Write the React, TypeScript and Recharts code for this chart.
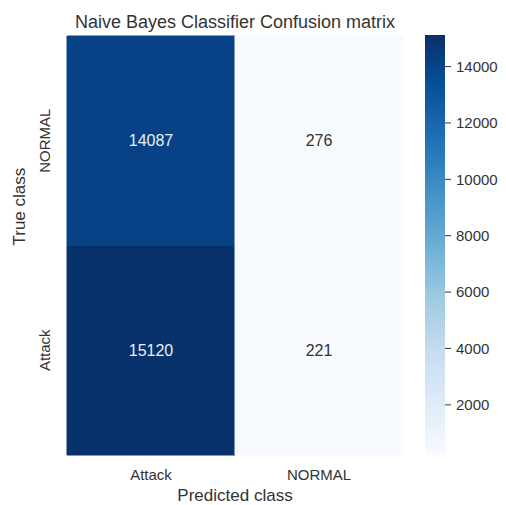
import React from 'react';
import { BarChart, Bar, XAxis, YAxis, Cell, LabelList, Label } from 'recharts';

// confusion matrix, columns = predicted class, rows = true class
const predictedClasses = ['Attack', 'NORMAL'];
const trueClasses = ['Attack', 'NORMAL']; // bottom row first
const trueAttack = [15120, 221];
const trueNormal = [14087, 276];
const colorbarTicks = [2000, 4000, 6000, 8000, 10000, 12000, 14000];

const FONT = '"Liberation Sans", Arial, sans-serif';
const TEXT = '#333333';

// matplotlib "Blues"
const BLUES = ['#f7fbff', '#deebf7', '#c6dbef', '#9ecae1', '#6baed6', '#4292c6', '#2171b5', '#08519c', '#08306b'];

const allValues = [...trueAttack, ...trueNormal];
const vmin = Math.min(...allValues);
const vmax = Math.max(...allValues);

function hexToRgb(h: string) {
  const n = parseInt(h.slice(1), 16);
  return [(n >> 16) & 255, (n >> 8) & 255, n & 255];
}

function blues(v: number) {
  const t = Math.max(0, Math.min(1, (v - vmin) / (vmax - vmin)));
  const pos = t * (BLUES.length - 1);
  const i = Math.min(Math.floor(pos), BLUES.length - 2);
  const f = pos - i;
  const a = hexToRgb(BLUES[i]);
  const b = hexToRgb(BLUES[i + 1]);
  const c = a.map((x, k) => Math.round(x + (b[k] - x) * f));
  return `rgb(${c[0]},${c[1]},${c[2]})`;
}

const data = predictedClasses.map((p, i) => ({
  pred: p,
  attackRow: 1,
  normalRow: 1,
  attackCount: trueAttack[i],
  normalCount: trueNormal[i],
}));

const colorbarData = [{ name: 'scale', range: [vmin, vmax] }];

const CellText = (props: any) => {
  const { x, y, width, height, value } = props;
  const dark = (value - vmin) / (vmax - vmin) > 0.5;
  return (
    <text
      x={x + width / 2}
      y={y + height / 2}
      textAnchor="middle"
      dominantBaseline="central"
      fontSize={16}
      fontFamily={FONT}
      fill={dark ? '#e6f0fa' : TEXT}
    >
      {value}
    </text>
  );
};

const RowTick = (props: any) => {
  const { x, y, payload } = props;
  const idx = payload.value < 1 ? 0 : 1;
  const bx = x - 9;
  return (
    <text
      x={bx}
      y={y}
      transform={`rotate(-90, ${bx}, ${y})`}
      textAnchor="middle"
      fontSize={15}
      fontFamily={FONT}
      fill={TEXT}
    >
      {trueClasses[idx]}
    </text>
  );
};

export default function App() {
  return (
    <div style={{ position: 'absolute', left: 0, top: 0, width: 506, height: 505, background: '#fff', fontFamily: FONT }}>
      <div
        style={{
          position: 'absolute',
          left: 0,
          width: 470,
          top: 11,
          textAlign: 'center',
          fontSize: 18,
          lineHeight: '22px',
          color: TEXT,
        }}
      >
        Naive Bayes Classifier Confusion matrix
      </div>

      <div style={{ position: 'absolute', left: 0, top: 0 }}>
        <BarChart
          width={430}
          height={505}
          data={data}
          margin={{ top: 36, right: 27, left: 0, bottom: 0 }}
          barCategoryGap={0}
        >
          <XAxis
            dataKey="pred"
            type="category"
            height={50}
            tickLine={false}
            axisLine={false}
            tickMargin={8}
            tick={{ fontSize: 15, fill: TEXT, fontFamily: FONT }}
          >
            <Label value="Predicted class" position="insideBottom" offset={4} fontSize={17} fill={TEXT} fontFamily={FONT} />
          </XAxis>
          <YAxis
            type="number"
            domain={[0, 2]}
            ticks={[0.5, 1.5]}
            width={67}
            tickLine={false}
            axisLine={false}
            tick={<RowTick />}
          >
            <Label value="True class" angle={-90} position="insideLeft" offset={19} fontSize={17} fill={TEXT} fontFamily={FONT} />
          </YAxis>
          <Bar dataKey="attackRow" stackId="m" isAnimationActive={false}>
            {data.map((d, i) => (
              <Cell key={`a-${i}`} fill={blues(d.attackCount)} stroke={blues(d.attackCount)} strokeWidth={1} />
            ))}
            <LabelList dataKey="attackCount" content={<CellText />} />
          </Bar>
          <Bar dataKey="normalRow" stackId="m" isAnimationActive={false}>
            {data.map((d, i) => (
              <Cell key={`n-${i}`} fill={blues(d.normalCount)} stroke={blues(d.normalCount)} strokeWidth={1} />
            ))}
            <LabelList dataKey="normalCount" content={<CellText />} />
          </Bar>
        </BarChart>
      </div>

      {/* colour bar */}
      <div style={{ position: 'absolute', left: 425, top: 0 }}>
        <BarChart
          width={81}
          height={505}
          data={colorbarData}
          margin={{ top: 35, right: 0, left: 0, bottom: 50 }}
          barCategoryGap={0}
        >
          <defs>
            <linearGradient id="bluesGrad" x1="0" y1="1" x2="0" y2="0">
              {BLUES.map((c, i) => (
                <stop key={c} offset={`${(i / (BLUES.length - 1)) * 100}%`} stopColor={c} />
              ))}
            </linearGradient>
          </defs>
          <XAxis dataKey="name" hide />
          <YAxis
            orientation="right"
            type="number"
            domain={[vmin, vmax]}
            ticks={colorbarTicks}
            width={61}
            axisLine={false}
            tickSize={6}
            tickMargin={5}
            tickLine={{ stroke: TEXT }}
            tick={{ fontSize: 15, fill: TEXT, fontFamily: FONT }}
          />
          <Bar dataKey="range" fill="url(#bluesGrad)" isAnimationActive={false} />
        </BarChart>
      </div>
    </div>
  );
}
